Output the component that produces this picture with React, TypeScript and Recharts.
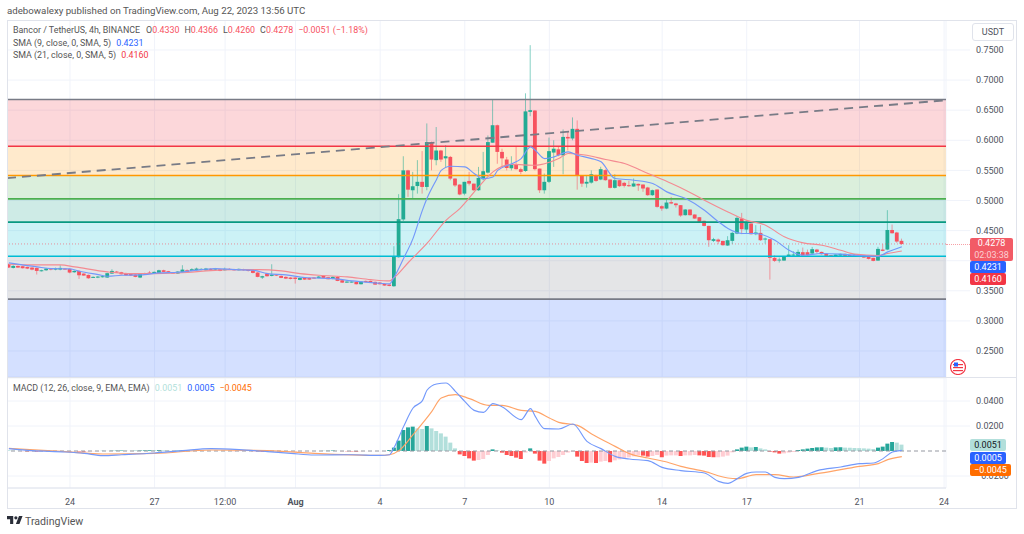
import { ComposedChart, Bar, Line, Cell, XAxis, YAxis, CartesianGrid, ReferenceArea, ReferenceLine } from 'recharts'

const opens = [
  .3941, .388, .3913, .3908, .3897, .3886, .388, .383, .3841, .3869,
  .3852, .3852, .3869, .3864, .3808, .383, .3786, .3764, .372, .372,
  .3725, .372, .3786, .3819, .3808, .3792, .378, .3769, .372, .3775,
  .3803, .3786, .3797, .3841, .3825, .3803, .3786, .3808, .3841, .383,
  .3841, .3847, .3841, .3864, .3852, .3858, .3841, .3864, .3858, .3841,
  .3858, .3852, .3841, .3803, .372, .3786, .3747, .3769, .3747, .3731,
  .372, .372, .3681, .372, .3714, .372, .3714, .3747, .3725, .3697,
  .3731, .3675, .3636, .3642, .3648, .3609, .3664, .3664, .3648, .3636,
  .3615, .3603, .3576, .4058, .4685, .550, .517, .524, .531, .5225,
  .597, .567, .583, .570, .5724, .5364, .5264, .5114, .5325, .528,
  .517, .5353, .5463, .596, .625, .5807, .568, .5535, .560, .552,
  .549, .6472, .6494, .553, .517, .531, .5796, .585, .575, .6056,
  .603, .619, .541, .528, .5297, .542, .5348, .5504, .5348, .521,
  .5337, .5293, .5254, .5232, .5276, .5265, .5216, .5088, .5182, .4905,
  .4866, .4972, .495, .4922, .4756, .485, .4767, .4722, .4662, .4578,
  .4329, .4351, .4329, .4252, .4329, .4451, .470, .4517, .4617, .444,
  .4462, .4357, .4357, .4047, .4008, .4002, .4074, .4085, .408, .4141,
  .4141, .4119, .4185, .4146, .4119, .409, .4069, .4085, .4113, .4096,
  .4074, .4102, .4091, .4074, .4047, .4002, .4185, .4185, .451, .4468, .433,
]
const highs = [
  .3952, .3925, .392, .3915, .390, .389, .3888, .385, .388, .3875,
  .3885, .3925, .3875, .387, .384, .384, .379, .377, .374, .3745,
  .375, .380, .3858, .383, .3815, .380, .3785, .3775, .379, .380,
  .383, .382, .385, .385, .383, .381, .3825, .3925, .3855, .3875,
  .3885, .3875, .388, .3875, .388, .3865, .3885, .3875, .3865, .387,
  .3865, .386, .385, .381, .375, .380, .3941, .3775, .3755, .374,
  .3725, .3725, .372, .3725, .372, .3725, .3745, .3755, .373, .374,
  .374, .368, .366, .366, .3655, .366, .367, .367, .3655, .3645,
  .362, .361, .424, .5105, .5735, .551, .5475, .567, .582, .628,
  .598, .622, .584, .592, .574, .537, .527, .531, .5475, .528,
  .5558, .5807, .608, .667, .626, .586, .5724, .5735, .589, .5546,
  .678, .758, .650, .553, .5447, .6045, .600, .589, .618, .614,
  .638, .633, .541, .541, .550, .543, .556, .552, .535, .5437,
  .534, .531, .5326, .5365, .528, .5265, .5227, .518, .5185, .492,
  .502, .506, .496, .4925, .4855, .4855, .477, .4725, .4665, .458,
  .4379, .4368, .433, .4407, .4479, .4739, .4794, .4645, .462, .459,
  .459, .4384, .436, .409, .4052, .4078, .4257, .4157, .4185, .4218,
  .4185, .4229, .4196, .415, .412, .4095, .4105, .4118, .412, .41,
  .4105, .411, .4095, .408, .405, .423, .4274, .4839, .4601, .4479, .4366,
]
const lows = [
  .388, .387, .388, .387, .386, .384, .377, .382, .383, .384,
  .384, .384, .385, .379, .380, .3697, .375, .370, .3715, .371,
  .372, .3715, .378, .380, .377, .375, .3745, .3725, .371, .377,
  .379, .378, .379, .381, .381, .379, .378, .380, .380, .3825,
  .3835, .384, .3835, .384, .3845, .3825, .3835, .3845, .3835, .3835,
  .3835, .382, .379, .3725, .3697, .3735, .374, .3745, .371, .3695,
  .369, .362, .3675, .368, .368, .370, .371, .371, .369, .369,
  .366, .363, .363, .3635, .3605, .3605, .364, .3635, .360, .3605,
  .3585, .3575, .3565, .405, .466, .506, .503, .5114, .5114, .517,
  .550, .5585, .564, .5558, .5336, .5225, .5087, .5087, .525, .516,
  .516, .5336, .5447, .596, .561, .5558, .550, .550, .5513, .5436,
  .5475, .640, .550, .5125, .5114, .529, .5558, .5735, .5436, .583,
  .600, .518, .5225, .5214, .528, .531, .5337, .533, .520, .520,
  .5227, .5216, .5227, .5227, .516, .5144, .5077, .5077, .488, .4828,
  .4855, .4939, .4883, .4728, .475, .475, .4695, .464, .457, .423,
  .431, .4274, .425, .4246, .4274, .444, .444, .4451, .4435, .4423,
  .4329, .4285, .3686, .398, .3969, .3998, .4063, .4074, .4074, .4074,
  .4074, .4102, .4119, .41, .4075, .4065, .4065, .408, .4075, .4065,
  .407, .4075, .4045, .402, .399, .3997, .4157, .4174, .445, .4296, .426,
]
const closes = [
  .3886, .3913, .3886, .3875, .3869, .3852, .383, .3841, .3869, .3852,
  .3875, .388, .3858, .3803, .383, .3758, .3753, .3708, .3731, .3736,
  .3742, .3792, .383, .3808, .3775, .3758, .3753, .3731, .378, .3792,
  .3792, .3814, .3841, .3814, .3814, .3792, .3819, .3852, .3814, .3858,
  .3869, .3864, .3869, .3847, .3869, .383, .3864, .3852, .3841, .3864,
  .3841, .383, .3797, .3731, .3742, .3742, .3769, .3753, .3714, .3703,
  .3697, .3697, .3714, .3686, .3686, .3703, .3736, .3714, .3692, .3731,
  .3664, .3636, .3653, .3653, .3609, .3653, .3648, .3642, .3603, .3609,
  .3587, .3581, .4075, .469, .550, .518, .5236, .531, .5225, .597,
  .568, .583, .568, .5735, .5364, .525, .510, .531, .528, .517,
  .5375, .5486, .597, .625, .5807, .570, .554, .560, .552, .5475,
  .648, .650, .552, .517, .531, .582, .586, .575, .6056, .603,
  .619, .541, .528, .531, .5436, .5325, .552, .5337, .521, .5337,
  .5238, .5243, .5238, .5282, .5249, .5199, .5088, .5171, .4894, .4866,
  .4966, .495, .4922, .475, .485, .4756, .470, .4645, .4578, .434,
  .4357, .4318, .4257, .434, .4462, .4711, .4523, .4628, .444, .4468,
  .434, .4368, .4047, .3997, .4019, .4074, .4102, .4102, .4146, .4085,
  .409, .4191, .4146, .4108, .408, .4069, .4102, .4113, .408, .4069,
  .4102, .408, .4052, .403, .3997, .4196, .4163, .451, .4456, .4318, .4278,
]
const macdHist = [
  .0002, .0002, .0001, -.0001, -.0004, -.0004, -.0005, -.0004, -.0002, -.0001,
  -.0001, -.0001, -.0002, -.0003, -.0003, -.0004, -.0005, -.0004, -.0002, -.0001,
  .0001, .0001, .0002, .0003, .0004, .0002, .0001, .0002, .0004, .0005,
  .0006, .0006, .0007, .0005, .0003, .0001, .0003, .0005, .0002, .0001,
  .0001, .0001, .0001, .0001, .0001, .0001, .0001, 0, -.0001, -.0001,
  -.0001, -.0001, -.0002, -.0003, -.0005, -.0005, -.0003, -.0002, -.0003, -.0005,
  -.0005, -.0005, -.0003, -.0002, -.0001, -.0001, 0, .0001, .0002, .0004,
  .0001, -.0001, -.0002, -.0003, -.0005, -.0002, -.0001, -.0001, -.0001, -.0001,
  -.0001, .0008, .0027, .0083, .0168, .0189, .0195, .0181, .0176, .02,
  .0181, .016, .0141, .0115, .0067, .0021, -.0027, -.004, -.0059, -.0077,
  -.0072, -.0064, -.0032, .0013, .0005, -.0013, -.0032, -.004, -.0053, -.0064,
  -.0013, .0021, -.0021, -.0077, -.0101, -.008, -.0059, -.0048, -.0032, -.0013,
  -.0005, -.0045, -.008, -.0096, -.0093, -.0096, -.0085, -.008, -.009, -.0075,
  -.0067, -.0059, -.0051, -.0043, -.0032, -.0037, -.0045, -.004, -.0032, -.005,
  -.0037, -.0035, -.0035, -.004, -.0035, -.0035, -.0032, -.0035, -.0037, -.0048,
  -.005, -.005, -.0045, -.0037, -.0011, .0013, .0027, .0035, .0029, .0032,
  .0021, .0013, -.0005, -.0011, -.0021, -.0019, -.0013, -.0008, .0008, .0013,
  .0019, .0024, .0029, .003, .0027, .0024, .0029, .003, .0027, .0026,
  .0024, .0023, .0021, .0019, .0016, .0027, .0035, .0059, .0072, .0067, .0051,
]

// [candle index, value]
const sma9Points = [
  [0, .3963], [6, .3897], [9, .3869], [13, .3864], [15, .3825], [19, .3769], [21, .3742], [24, .3758],
  [28, .3764], [32, .3797], [36, .3808], [41, .3852], [44, .3869], [48, .3852], [52, .3841], [55, .3786],
  [59, .3764], [63, .372], [69, .3703], [73, .3664], [78, .3631], [81, .3614], [82, .373], [84, .404],
  [86, .437], [88, .484], [89, .504], [91, .535], [92, .55], [94, .5569], [97, .5558], [99, .5447],
  [101, .5364], [103, .5391], [104, .55], [107, .561], [109, .5696], [111, .589], [112, .5835], [114, .5696],
  [116, .5724], [119, .5807], [121, .5752], [124, .5696], [126, .5642], [129, .5365], [133, .5337], [137, .5282],
  [140, .5143], [144, .5033], [148, .4839], [151, .4645], [153, .4534], [156, .4451], [159, .4451], [163, .434],
  [166, .4174], [169, .4091], [173, .4119], [177, .4108], [181, .4085], [185, .4074], [187, .4146], [189, .4202],
  [190, .4231],
]
const sma21Points = [
  [0, .3941], [5, .393], [11, .393], [14, .3897], [21, .3814], [26, .3786], [31, .3786], [38, .3803],
  [42, .383], [48, .3852], [53, .3852], [58, .383], [62, .3786], [66, .3758], [72, .3731], [77, .3686],
  [81, .3664], [82, .372], [85, .397], [89, .429], [93, .467], [96, .487], [100, .523], [103, .5475],
  [107, .56], [112, .5585], [114, .561], [117, .5696], [119, .578], [123, .5752], [127, .568], [131, .5614],
  [136, .5448], [141, .5282], [144, .5171], [148, .5005], [153, .481], [157, .467], [161, .459], [165, .4396],
  [169, .4296], [173, .4257], [177, .4174], [180, .4108], [185, .4085], [187, .4119], [190, .416],
]
const macdPoints = [
  [0, .0019], [5, .0003], [12, -.0008], [16, -.0019], [20, -.0037], [24, -.003], [31, -.0016], [37, .0003],
  [43, .0019], [49, .0011], [55, -.0005], [60, -.0019], [65, -.0032], [73, -.003], [79, -.0035], [81, -.003],
  [82, .003], [84, .0197], [86, .0344], [88, .0403], [89, .0488], [91, .0536], [93, .0544], [95, .0477],
  [97, .0397], [99, .0325], [101, .0309], [103, .0379], [105, .0352], [109, .0251], [111, .0339], [112, .0277],
  [114, .0179], [117, .0176], [120, .0216], [123, .0077], [126, .0019], [129, -.0043], [132, -.0064], [136, -.0077],
  [139, -.0131], [143, -.0157], [148, -.0176], [151, -.0243], [153, -.0259], [155, -.0221], [157, -.0179], [159, -.0168],
  [161, -.0168], [163, -.0211], [165, -.0221], [168, -.0211], [172, -.0157], [177, -.0128], [181, -.0101], [184, -.0096],
  [186, -.0061], [188, -.0008], [190, .0005],
]
const signalPoints = [
  [0, .0021], [12, -.0005], [20, -.0024], [31, -.0019], [43, .0008], [55, .0003], [65, -.0019], [79, -.0035],
  [81, -.003], [83, .0003], [86, .0131], [90, .0317], [92, .0424], [95, .0451], [98, .0419], [102, .0365],
  [105, .0365], [109, .0325], [112, .0317], [115, .0264], [117, .0229], [121, .0205], [124, .0136], [129, .0037],
  [132, -.0021], [136, -.0056], [140, -.0088], [143, -.0123], [148, -.0163], [153, -.0216], [155, -.0221], [159, -.0189],
  [163, -.0189], [167, -.0208], [172, -.0181], [177, -.0149], [181, -.0123], [185, -.0101], [187, -.0069], [190, -.0045],
]

const priceTicks = [.25, .3, .35, .4, .45, .5, .55, .6, .65, .7, .75]
const macdTicks = [-.02, .02, .04]
const dateTicks = [13, 31, 46, 61, 79, 97, 115, 139, 157, 181, 199]
const dateLabels = ['24', '27', '12:00', 'Aug', '4', '7', '10', '14', '17', '21', '24']

const fibPrices = [.6677, .5902, .5415, .5027, .464, .4074, .3362, .2068]
const fibColors = ['#f23645', '#ff9800', '#4caf50', '#089981', '#00bcd4', '#787b86', '#2962ff']
const fibLines = ['#787b86', '#f23645', '#ff9800', '#4caf50', '#089981', '#00bcd4', '#787b86']
const trendLine = [[-0.4, .537], [199.4, .6665]]

const FONT = 'Roboto, sans-serif'
const UP = '#22ab94'
const DOWN = '#f7525f'
const X_DOMAIN = [-0.4, 199.4]

const lookup = (points: number[][]) => new Map(points.map(([i, v]) => [i, v]))
const sma9Map = lookup(sma9Points)
const sma21Map = lookup(sma21Points)
const macdMap = lookup(macdPoints)
const signalMap = lookup(signalPoints)

const candles = closes.map((c, i) => ({
  i,
  range: [lows[i], highs[i]],
  open: opens[i],
  high: highs[i],
  low: lows[i],
  close: c,
  sma9: sma9Map.get(i),
  sma21: sma21Map.get(i),
}))
const macdRows = macdHist.map((h, i) => ({ i, hist: h, macd: macdMap.get(i), signal: signalMap.get(i) }))

const histColor = (v: number, prev: number) => {
  if (v >= 0) return v > prev ? '#26a69a' : '#b2dfdb'
  return v < prev ? '#ff5252' : '#ffcdd2'
}

function Candle(props: any) {
  const { x, y, width, height, payload } = props
  const { open, high, low, close } = payload
  const perUnit = height / (high - low)
  const cx = x + width / 2
  const top = y + (high - Math.max(open, close)) * perUnit
  const bodyH = Math.max(Math.abs(open - close) * perUnit, 1)
  const color = close >= open ? UP : DOWN
  return (
    <g>
      <line x1={cx} x2={cx} y1={y} y2={y + height} stroke={color} strokeOpacity={0.55} strokeWidth={1} />
      <rect x={cx - 1.9} y={top} width={3.8} height={bodyH} fill={color} />
    </g>
  )
}

function Badge({ top, left = 970, width, height = 12, bg, color = '#fff', children }: any) {
  return (
    <div style={{ position: 'absolute', top, left, width, height, background: bg, color, fontFamily: FONT, fontSize: 9, lineHeight: height + 'px', textAlign: 'center', borderRadius: 2 }}>
      {children}
    </div>
  )
}

const legendText = { position: 'absolute', left: 13, fontFamily: FONT, fontSize: 8.9, color: '#555', whiteSpace: 'nowrap' } as const
const axisTick = { fill: '#50535e', fontSize: 9, fontFamily: FONT }

function DateTick({ x, y, index }: any) {
  const label = dateLabels[index]
  return (
    <text x={x} y={y + 9} textAnchor="middle" fill="#50535e" fontSize={9} fontFamily={FONT} fontWeight={label === 'Aug' ? 700 : 400}>
      {label}
    </text>
  )
}

export default function App() {
  return (
    <div style={{ position: 'absolute', left: 0, top: 0, width: 1024, height: 534, background: '#fff', overflow: 'hidden' }}>
      <div style={{ position: 'absolute', left: 7, top: 5, fontFamily: FONT, fontSize: 9.7, color: '#555', whiteSpace: 'nowrap' }}>
        adebowalexy published on TradingView.com, Aug 22, 2023 13:56 UTC
      </div>

      <div style={{ position: 'absolute', left: 7, top: 20 }}>
        <ComposedChart width={1009} height={357} data={candles} margin={{ top: 0, right: 0, bottom: 0, left: 0 }}>
          <CartesianGrid stroke="#f0f3fa" />
          <XAxis dataKey="i" type="number" domain={X_DOMAIN} ticks={dateTicks} allowDataOverflow hide />
          {/* the 0.4000 label sits behind the price badges in the original, so it stays blank */}
          <YAxis orientation="right" width={70} domain={[.2068, .7998]} ticks={priceTicks} allowDataOverflow tick={axisTick}
            axisLine={false} tickLine={{ stroke: '#f0f3fa' }} tickSize={24} tickMargin={6}
            tickFormatter={(v: number) => (v === .4 ? '' : v.toFixed(4))} />
          {fibColors.map((c, k) => (
            <ReferenceArea key={k} y1={fibPrices[k + 1]} y2={fibPrices[k]} fill={c} fillOpacity={0.2} stroke="none" />
          ))}
          {fibLines.map((c, k) => (
            <ReferenceLine key={k} y={fibPrices[k]} stroke={c} strokeWidth={1.6} />
          ))}
          <ReferenceLine segment={[{ x: trendLine[0][0], y: trendLine[0][1] }, { x: trendLine[1][0], y: trendLine[1][1] }]}
            stroke="#787b86" strokeWidth={1.8} strokeDasharray="9 6" />
          <ReferenceLine y={.4278} stroke="#f7525f" strokeOpacity={0.6} strokeDasharray="1 2" />
          <Bar dataKey="range" barSize={4} shape={<Candle />} isAnimationActive={false} />
          <Line dataKey="sma21" stroke="#f48a91" strokeWidth={1.15} dot={false} connectNulls type="monotone" isAnimationActive={false} />
          <Line dataKey="sma9" stroke="#7398fa" strokeWidth={1.15} dot={false} connectNulls type="monotone" isAnimationActive={false} />
        </ComposedChart>
      </div>

      <div style={{ position: 'absolute', left: 7, top: 378 }}>
        <ComposedChart width={1009} height={130} data={macdRows} margin={{ top: 0, right: 0, bottom: 0, left: 0 }}>
          <CartesianGrid stroke="#f0f3fa" />
          <XAxis dataKey="i" type="number" domain={X_DOMAIN} ticks={dateTicks} allowDataOverflow height={20}
            axisLine={{ stroke: '#e0e3eb' }} tickLine={false} interval={0} tick={<DateTick />} />
          <YAxis orientation="right" width={70} domain={[-.0296, .0584]} ticks={macdTicks} allowDataOverflow tick={axisTick}
            axisLine={false} tickLine={{ stroke: '#f0f3fa' }} tickSize={24} tickMargin={6} tickFormatter={(v: number) => v.toFixed(4).replace('-', '−')} />
          <ReferenceLine y={0} stroke="#9598a1" strokeDasharray="4 3" />
          <Bar dataKey="hist" barSize={4} isAnimationActive={false}>
            {macdHist.map((v, i) => (
              <Cell key={i} fill={histColor(v, macdHist[i - 1] ?? 0)} />
            ))}
          </Bar>
          <Line dataKey="signal" stroke="#ffa468" strokeWidth={1.15} dot={false} connectNulls type="monotone" isAnimationActive={false} />
          <Line dataKey="macd" stroke="#7399fb" strokeWidth={1.15} dot={false} connectNulls type="monotone" isAnimationActive={false} />
        </ComposedChart>
      </div>

      {/* frame and pane divider */}
      <div style={{ position: 'absolute', left: 7, top: 20, width: 1008, height: 487, border: '1px solid #e0e3eb', pointerEvents: 'none' }} />
      <div style={{ position: 'absolute', left: 7, top: 377, width: 1009, height: 1, background: '#e0e3eb' }} />

      <div style={{ ...legendText, top: 25 }}>
        Bancor / TetherUS, 4h, BINANCE
        <span style={{ marginLeft: 6 }}>O</span><span style={{ color: DOWN }}>0.4330</span>
        <span style={{ marginLeft: 5 }}>H</span><span style={{ color: DOWN }}>0.4366</span>
        <span style={{ marginLeft: 5 }}>L</span><span style={{ color: DOWN }}>0.4260</span>
        <span style={{ marginLeft: 5 }}>C</span><span style={{ color: DOWN }}>0.4278</span>
        <span style={{ marginLeft: 5, color: DOWN }}>−0.0051 (−1.18%)</span>
      </div>
      <div style={{ ...legendText, top: 38 }}>
        SMA (9, close, 0, SMA, 5) <span style={{ marginLeft: 3, color: '#2962ff' }}>0.4231</span>
      </div>
      <div style={{ ...legendText, top: 50 }}>
        SMA (21, close, 0, SMA, 5) <span style={{ marginLeft: 3, color: '#f23645' }}>0.4160</span>
      </div>
      <div style={{ ...legendText, top: 383 }}>
        MACD (12, 26, close, 9, EMA, EMA) <span style={{ marginLeft: 3, color: '#b2dfdb' }}>0.0051</span>
        <span style={{ marginLeft: 5, color: '#2962ff' }}>0.0005</span>
        <span style={{ marginLeft: 5, color: '#ff6d00' }}>−0.0045</span>
      </div>

      <div style={{ position: 'absolute', left: 972, top: 23, width: 40, height: 16, border: '1px solid #e0e3eb', borderRadius: 3, fontFamily: FONT, fontSize: 9, lineHeight: '16px', textAlign: 'center', color: '#50535e' }}>
        USDT
      </div>

      <div style={{ position: 'absolute', left: 946, top: 244, width: 24, height: 0, borderTop: '1px dotted #f7a0a6' }} />
      <div style={{ position: 'absolute', left: 970, top: 238, width: 43, height: 23, background: '#f25b66', borderRadius: 2, fontFamily: FONT, fontSize: 9, lineHeight: '11.5px', textAlign: 'center', color: '#fff' }}>
        0.4278<br /><span style={{ color: '#fbd0d3' }}>02:03:38</span>
      </div>
      <Badge top={261} width={36} bg="#2962ff">0.4231</Badge>
      <Badge top={273} width={36} bg="#f23645">0.4160</Badge>
      <Badge top={439} width={36} bg="#b2dfdb" color="#131722">0.0051</Badge>
      <Badge top={452} width={36} bg="#2962ff">0.0005</Badge>
      <Badge top={464} width={41} bg="#ff6d00">−0.0045</Badge>

      {/* currency flag */}
      <svg style={{ position: 'absolute', left: 950, top: 359 }} width={16} height={16} viewBox="0 0 16 16">
        <circle cx={8} cy={8} r={7.5} fill="#fff" stroke="#f23645" strokeWidth={1.2} />
        <rect x={3} y={5} width={10} height={1.2} fill="#f23645" />
        <rect x={3} y={8} width={10} height={1.2} fill="#f23645" />
        <rect x={3} y={11} width={10} height={1.2} fill="#f23645" />
        <rect x={4} y={3.5} width={4} height={4} fill="#2962ff" />
      </svg>

      {/* TradingView logo */}
      <svg style={{ position: 'absolute', left: 7, top: 516 }} width={16} height={9} viewBox="0 0 36 20">
        <path d="M14 18H7V7H0V0h14v18zM28 18h-8L27 0h8l-7 18z" fill="#2a2e39" />
        <circle cx={20} cy={4} r={3.6} fill="#2a2e39" />
      </svg>
      <div style={{ position: 'absolute', left: 25, top: 515, fontFamily: FONT, fontSize: 10.6, color: '#555' }}>TradingView</div>
    </div>
  )
}
